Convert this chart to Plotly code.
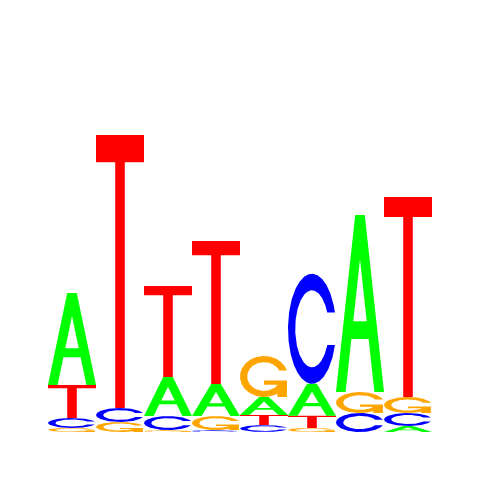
import numpy as np
import plotly.graph_objects as go

# Sequence logo, heights in bits
positions = [1, 2, 3, 4, 5, 6, 7, 8]
bits_A = [0.479, 0.000, 0.203, 0.167, 0.094, 0.167, 0.922, 0.031]
bits_C = [0.052, 0.073, 0.073, 0.010, 0.036, 0.573, 0.099, 0.068]
bits_G = [0.021, 0.052, 0.010, 0.073, 0.214, 0.021, 0.109, 0.083]
bits_T = [0.172, 1.422, 0.474, 0.745, 0.052, 0.063, 0.000, 1.042]

letter_colors = {'A': '#00FF00', 'C': '#0000FF', 'G': '#FFA500', 'T': '#FF0000'}


# --- letter outlines in a unit box (seqLogo style) ---
def glyph_A():
    outer = ([0, 4, 6, 10, 8, 6.8, 3.2, 2, 0], [0, 10, 10, 0, 0, 3, 3, 0, 0])
    hole = ([3.6, 5, 6.4, 3.6], [4, 7.5, 4, 4])
    scale = lambda p: (np.array(p[0]) * 0.1, np.array(p[1]) * 0.1)
    return [(scale(outer), None), (scale(hole), 'white')]


def glyph_T():
    x = np.array([0, 10, 10, 6, 6, 4, 4, 0, 0]) * 0.1
    y = np.array([10, 10, 9, 9, 0, 0, 9, 9, 10]) * 0.1
    return [((x, y), None)]


def c_ring():
    a1 = np.linspace(0.3 + np.pi / 2, np.pi, 100)
    a2 = np.linspace(np.pi, 1.5 * np.pi, 100)
    xl = np.concatenate([0.5 + 0.5 * np.sin(a1), 0.5 + 0.5 * np.sin(a2)])
    yl = np.concatenate([0.5 + 0.5 * np.cos(a1), 0.5 + 0.5 * np.cos(a2)])
    top = (0.5 + 0.5 * np.cos(a1)).max()
    xi1 = 0.5 + 0.35 * np.sin(a1)
    yi1 = 0.5 + 0.35 * np.cos(a1)
    keep = yi1 <= top
    xi1, yi1 = xi1[keep], yi1[keep]
    yi1[0] = top
    xi = np.concatenate([xi1, 0.5 + 0.35 * np.sin(a2)])
    yi = np.concatenate([yi1, 0.5 + 0.35 * np.cos(a2)])
    x = np.concatenate([xl, xl[::-1]])
    y = np.concatenate([yl, 1 - yl[::-1]])
    x1 = np.concatenate([xi, xi[::-1]])
    y1 = np.concatenate([yi, 1 - yi[::-1]])
    return np.concatenate([x, x1[::-1]]), np.concatenate([y, y1[::-1]])


def glyph_C():
    return [(c_ring(), None)]


def glyph_G():
    r1 = 0.5 + 0.5 * np.sin(0.3 + np.pi / 2)
    bar_x = np.array([r1, 0.5, 0.5, r1 - 0.2, r1 - 0.2, r1, r1])
    bar_y = np.array([0.4, 0.4, 0.3, 0.3, 0, 0, 0.4])
    return [(c_ring(), None), ((bar_x, bar_y), None)]


glyphs = {'A': glyph_A, 'C': glyph_C, 'G': glyph_G, 'T': glyph_T}

fig = go.Figure()

for i, pos in enumerate(positions):
    column = [('A', bits_A[i]), ('C', bits_C[i]), ('G', bits_G[i]), ('T', bits_T[i])]
    column.sort(key=lambda c: c[1])  # smallest at the bottom
    base = 0.0
    for letter, h in column:
        if h <= 0:
            continue
        for (gx, gy), fill in glyphs[letter]():
            fig.add_trace(go.Scatter(
                x=pos - 0.5 + gx,
                y=base + h * gy,
                mode='lines',
                fill='toself',
                fillcolor=fill or letter_colors[letter],
                line=dict(width=0, color=fill or letter_colors[letter]),
                hoverinfo='skip',
                showlegend=False
            ))
        base += h

# page body has an 8px margin, so the figure is 472px and offset by that
fig.update_layout(
    width=472,
    height=472,
    margin=dict(l=40, r=48, t=40, b=48),
    paper_bgcolor='white',
    plot_bgcolor='white',
    xaxis=dict(range=[0.5, 8.5], visible=False, fixedrange=True),
    yaxis=dict(range=[0, 2], visible=False, fixedrange=True),
)

fig.write_html("out.html")
